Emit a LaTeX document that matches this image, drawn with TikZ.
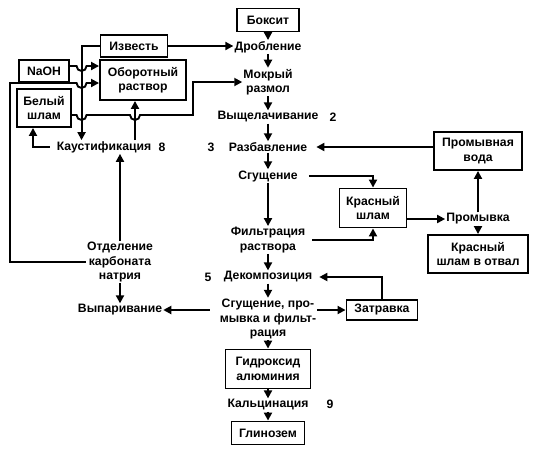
\documentclass[tikz,border=0pt]{standalone}
\usepackage{fontspec}
\setmainfont{Liberation Sans}
\usetikzlibrary{arrows.meta,calc}
\tikzset{
 box/.style={draw,line width=1.9pt,inner xsep=6pt,inner ysep=3pt,align=center},
 proc/.style={inner sep=1pt,align=center},
 flow/.style={line width=1.9pt,-{Triangle[length=8pt,width=8pt]}}
}
\begin{document}
\begin{tikzpicture}[x=1pt,y=-1pt,font=\bfseries\fontsize{12.2}{14.5}\selectfont]
 \useasboundingbox (0,0) rectangle (540,456);
 % main line
 \node[box,minimum width=62pt,minimum height=23pt] (bauxite) at (268,20) {Боксит};
 \node[proc] (crush) at (268,47) {Дробление};
 \node[proc] (grind) at (268,82) {Мокрый\\размол};
 \node[proc] (leach) at (268,117) {Выщелачивание};
 \node[proc] (dilute) at (268,147) {Разбавление};
 \node[proc] (thick) at (268,176) {Сгущение};
 \node[proc] (filt) at (268,240) {Фильтрация\\раствора};
 \node[proc] (decomp) at (268,277) {Декомпозиция};
 \node[proc] (wash2) at (268,319) {Сгущение, про-\\мывка и фильт-\\рация};
 \node[box,minimum width=85pt,minimum height=39pt] (hydrox) at (268,369) {Гидроксид\\алюминия};
 \node[proc] (calcine) at (268,405) {Кальцинация};
 \node[box,minimum width=73pt,minimum height=23pt] (alumina) at (268,433) {Глинозем};
 \node (num2) at (333,117) {2};\node (num3) at (211,147) {3};
 \node (num5) at (208,277) {5};\node (num9) at (330,404) {9};
 % red mud side
 \node[box,minimum width=88pt,minimum height=38pt] (washwater) at (478,151) {Промывная\\вода};
 \node[box,minimum width=67pt,minimum height=39pt] (redmud) at (373,208) {Красный\\шлам};
 \node[proc] (wash) at (478,219) {Промывка};
 \node[box,minimum width=100pt,minimum height=38pt] (dump) at (478,254) {Красный\\шлам в отвал};
 \node[box,minimum width=71pt,minimum height=20pt] (seed) at (382,310) {Затравка};
 % liquor side
 \node[box,minimum width=67pt,minimum height=22pt] (lime) at (134,46) {Известь};
 \node[box,minimum width=86pt,minimum height=40pt] (circ) at (143,80) {Оборотный\\раствор};
 \node[box,minimum width=50pt,minimum height=22pt] (naoh) at (44,71) {NaOH};
 \node[box,minimum width=50pt,minimum height=38pt] (white) at (44,108) {Белый\\шлам};
 \node[proc] (caust) at (104,147) {Каустификация};
 \node (num8) at (162,147) {8};
 \node[proc] (sep) at (120,262) {Отделение\\карбоната\\натрия};
 \node[proc] (evap) at (120,310) {Выпаривание};

 \draw[flow] (bauxite) -- (crush);
 \draw[flow] (crush) -- (grind);
 \draw[flow] (grind) -- (leach);
 \draw[flow] (leach) -- (dilute);
 \draw[flow] (dilute) -- (thick);
 \draw[flow] (thick) -- (filt);
 \draw[flow] (filt) -- (decomp);
 \draw[flow] (decomp) -- (wash2);
 \draw[flow] (wash2) -- (hydrox);
 \draw[flow] (hydrox) -- (calcine);
 \draw[flow] (calcine) -- (alumina);

 \draw[flow] (washwater.west |- dilute) -- ([xshift=8pt]dilute.east);
 \draw[flow] ([xshift=10pt]thick.east) -| (redmud.north);
 \draw[flow] ([xshift=6pt]filt.east) -| (redmud.south);
 \draw[flow] (redmud.east |- wash) -- (wash.west);
 \draw[flow] (wash) -- (washwater);
 \draw[flow] (wash) -- (dump);
 \draw[flow] (seed.north) |- ([xshift=6pt]decomp.east);
 \draw[flow] ([yshift=9pt]wash2.east) -- (seed.west);
 \draw[flow] ([shift={(-9pt,9pt)}]wash2.west) -- (evap.east);

 \draw[flow] (lime.east) -- (lime.east -| crush.west);
 \draw[flow] (lime.west) -- ++(-18,0) coordinate (v1) -- (v1 |- caust.north);
 \draw[flow] ([xshift=31pt]caust.north) coordinate (v2) -- (v2 |- circ.south);
 % lines dip under the verticals
 \draw[flow] ([yshift=5pt]naoh.east) coordinate (s1) -- ($(s1 -| v1)+(-5,0)$)
  arc[start angle=180,end angle=0,radius=5] -- (s1 -| circ.west);
 \coordinate (loop) at (10,83);
 \draw[flow] (sep.west) -| (loop) -- ($(loop -| v1)+(-5,0)$)
  arc[start angle=180,end angle=0,radius=5] -- (loop -| circ.west);
 \draw[flow] ([yshift=-7pt]white.east) coordinate (s3) -- ($(s3 -| v1)+(-5,0)$)
  arc[start angle=180,end angle=0,radius=5] -- ($(s3 -| v2)+(-5,0)$)
  arc[start angle=180,end angle=0,radius=5] -- ++(53,0) |- (grind.west);
 \draw[flow] ([xshift=-6pt]caust.west) -| ([xshift=-11pt]white.south);
 \draw[flow] (sep.north) -- (sep.north |- caust.south);
 \draw[flow] (sep) -- (evap);
\end{tikzpicture}
\end{document}
